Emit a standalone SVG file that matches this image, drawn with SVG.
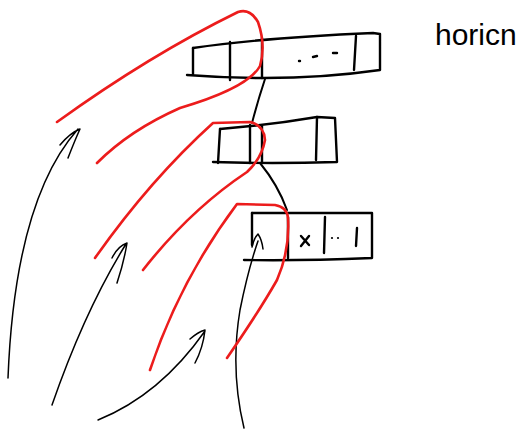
<svg xmlns="http://www.w3.org/2000/svg" width="522" height="429" viewBox="0 0 522 429">
<style>
.box{fill:none;stroke:#000;stroke-width:2.4;stroke-linecap:round;stroke-linejoin:round}
.arrow{fill:none;stroke:#000;stroke-width:1.5;stroke-linecap:round;stroke-linejoin:round}
.red{fill:none;stroke:#ec1c1c;stroke-width:2.6;stroke-linecap:round;stroke-linejoin:round}
.conn{fill:none;stroke:#000;stroke-width:2;stroke-linecap:round}
.lbl{font-family:"Liberation Sans",Arial,sans-serif;fill:#000}
</style>
<rect width="522" height="429" fill="#fff"/>
<g id="connectors">
<path class="conn" d="M265,79 Q258,100 252,123"/>
<path class="conn" d="M260,163 Q278,185 287,210"/>
<path class="arrow" d="M8,378 Q15,200 78,129 M60,145 Q70,133 80,129 Q75,140 68,158"/>
<path class="arrow" d="M52,405 Q85,310 126,244 M112,258 Q118,246 127,243 Q124,262 117,283"/>
<path class="arrow" d="M98,420 Q160,395 205,331 M190,339 Q198,332 205,330 Q203,348 195,363"/>
<path class="arrow" d="M244,428 Q230,370 240,310 Q248,270 258,241 M252,247 Q254,238 258,234 Q262,240 263,249"/>
</g>
<g id="box1">
<path class="box" d="M193,48 Q260,38 373,33 L380,34 L380,70 Q290,83 187,75"/>
<path class="box" d="M193,48 L193,74 M230,42 L230,80 M262,38 L262,78 M356,36 L354,70"/>
<path class="box" d="M299,61 L300,61 M313,57 L317,56 M333,53 L337,53"/>
</g>
<g id="box2">
<path class="box" d="M220,129 Q270,125 317,117 L335,118 L337,162 Q270,164 213,162"/>
<path class="box" d="M220,129 L218,163 M250,125 L250,163 M262,126 L262,163 M317,117 L316,160"/>
</g>
<g id="box3">
<path class="box" d="M252,213 L372,213 L372,258 Q300,261 244,260"/>
<path class="box" d="M252,213 L252,245 M288,217 L288,258 M325,217 L324,253 M357,228 L356,246"/>
<path class="box" d="M301,236 L309,245 M309,236 L301,246"/>
<circle cx="332" cy="238" r="1.1" fill="#000"/>
<circle cx="338" cy="238" r="1.1" fill="#000"/>
</g>
<g id="red-loops">
<path class="red" d="M57,122 Q150,55 238,12 Q250,8 258,22 Q266,45 260,66 Q248,88 180,108 Q130,130 97,163"/>
<path class="red" d="M95,258 Q150,180 213,123 L250,122 Q264,125 265,140 Q262,158 247,172 Q190,210 143,270"/>
<path class="red" d="M150,370 Q180,280 237,204 L275,205 Q287,207 288,218 Q290,250 277,280 Q260,310 227,358"/>
</g>
<g id="title">
<text class="lbl" x="435" y="45" font-size="30">horicn</text>
</g>
</svg>
